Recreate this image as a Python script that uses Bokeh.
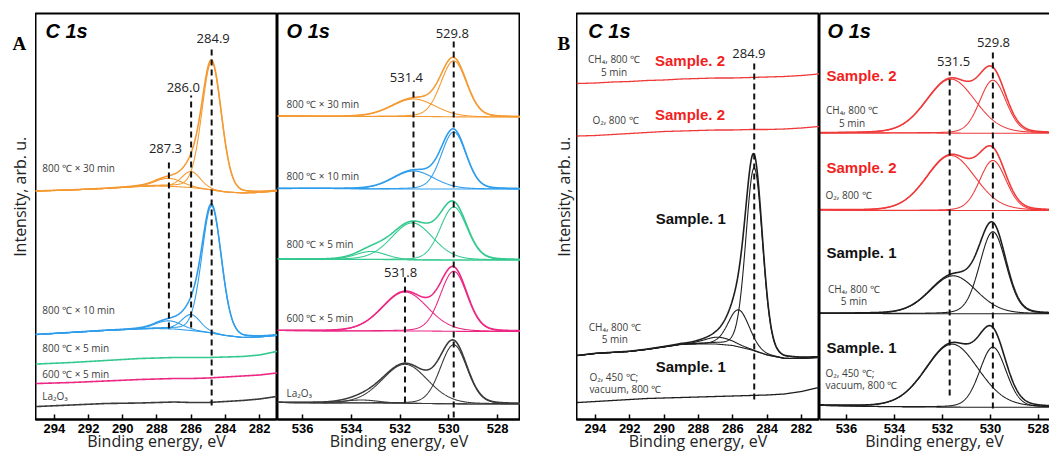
import numpy as np
from bokeh.plotting import figure
from bokeh.models import Range1d, FixedTicker, Label, LinearAxis
from bokeh.layouts import row
from bokeh.embed import file_html
from bokeh.resources import INLINE

# ------------------------------------------------------------------ data
C1S_TICKS = [294, 292, 290, 288, 286, 284, 282]
O1S_TICKS = [536, 534, 532, 530, 528]

# ---- Panel A, C 1s (intensity in arb. u.)
AC_E = [295, 293, 291, 289, 288, 287, 286, 285, 284, 283, 282, 281]
AC_La2O3 = [13, 14.5, 16, 16.5, 17, 17.5, 17, 17, 18, 19, 20.5, 23]
AC_600_5 = [36, 37, 38.5, 40, 40.5, 41, 41, 41.5, 42.5, 43.5, 44.5, 46.5]
AC_800_5 = [55.5, 57, 59, 61, 61.5, 62, 62, 62, 62.5, 63, 64.5, 68]
AC_800_10_bg = [85, 87, 89, 90.5, 91, 90.5, 89, 87, 84, 82, 82.5, 84]
AC_800_30_bg = [228.5, 229.5, 231, 233, 233.5, 233, 232, 230, 227.5, 226.5, 227, 228.5]
AC_PEAK_E = [284.8, 286.0, 287.3]
AC_FWHM = [1.35, 1.3, 1.8]
AC_800_10_H = [127, 16, 8]
AC_800_30_H = [128, 16, 8]
AC_LINES = ["284.9", "286.0", "287.3"]
AC_LINE_E = [284.8, 286.0, 287.3]
AC_LINE_TOP = [372, 324, 257]
AC_LINE_BOT = [14, 92, 91]
AC_NAMES = ["800 ℃ × 30 min", "800 ℃ × 10 min", "800 ℃ × 5 min", "600 ℃ × 5 min", "La₂O₃"]

# ---- Panel A, O 1s
AO_E = [537, 535, 533, 531, 529, 527]
AO_La2O3_bg = [17, 16.5, 16.5, 16, 15.5, 15.5]
AO_600_5_bg = [89, 88.5, 88.5, 88.5, 88, 88]
AO_800_5_bg = [160.5, 160, 160, 159.5, 159.5, 159.5]
AO_800_10_bg = [231, 231, 230.5, 230.5, 230.5, 230.5]
AO_800_30_bg = [303.5, 303, 303, 303, 302.5, 302.5]
AO_La2O3_pk = ([529.8, 531.8, 533.6], [59, 39, 3], [1.3, 2.2, 1.6])
AO_600_5_pk = ([529.8, 531.8], [60, 39], [1.3, 2.2])
AO_800_5_pk = ([529.8, 531.5, 533.2], [53, 37, 8], [1.3, 2.0, 1.5])
AO_800_10_pk = ([529.8, 531.45], [57, 18], [1.2, 2.0])
AO_800_30_pk = ([529.8, 531.45], [56, 17.5], [1.25, 2.1])
AO_LINES = ["529.8", "531.4", "531.8"]
AO_LINE_E = [529.8, 531.45, 531.8]
AO_LINE_TOP = [380, 332, 142]
AO_LINE_BOT = [2, 162, 17]

# ---- Panel B, C 1s
BC_E = [295, 294, 293, 292, 291, 290, 289, 288, 287, 286, 285, 284, 283, 282, 281]
BC_S2_CH4 = [336, 336.5, 337.5, 338, 339, 339.5, 340.5, 341, 341.5, 341.5, 342, 342.5, 343, 344, 345.5]
BC_S2_O2 = [283.5, 284, 285, 286, 287, 288, 288.5, 289, 289.5, 289.5, 290, 290, 290.5, 291.5, 293]
BC_S1_CH4_bg = [64, 66, 67, 68, 70, 72.5, 75, 75.5, 75.5, 74, 70, 64.5, 61, 61, 62]
BC_S1_O2 = [17, 18, 19, 20, 21, 21.5, 22, 22.5, 23, 23.5, 24, 24.5, 25.5, 28, 32]
BC_S1_CH4_pk = ([284.75, 285.65, 286.8], [183, 37, 7], [1.15, 1.45, 2.0])
BC_LINES = ["284.9"]
BC_LINE_E = [284.75]
BC_LINE_TOP = [356]
BC_LINE_BOT = [20]

# ---- Panel B, O 1s
BO_E = [537, 535, 533, 531, 529, 527]
BO_S2_CH4_bg = [286.5, 286.5, 286.5, 286.3, 286.3, 286.3]
BO_S2_O2_bg = [209.5, 209, 209, 209, 209, 209]
BO_S1_CH4_bg = [106, 106, 105.7, 105.7, 105.7, 105.7]
BO_S1_O2_bg = [14, 13, 12.5, 12.3, 12.3, 12.3]
BO_S2_CH4_pk = ([529.9, 531.65], [53, 54], [1.3, 2.4])
BO_S2_O2_pk = ([529.9, 531.65], [50, 55], [1.3, 2.4])
BO_S1_CH4_pk = ([529.9, 531.55], [82, 38], [1.3, 2.3])
BO_S1_O2_pk = ([529.9, 531.6], [60, 63], [1.3, 2.6])
BO_LINES = ["529.8", "531.5"]
BO_LINE_E = [529.9, 531.7]
BO_LINE_TOP = [369, 348]
BO_LINE_BOT = [11, 24]

# ------------------------------------------------------------------ styles
ORANGE = "#F59A32"
BLUE = "#2F9DEB"
GREEN = "#34C98F"
PINK = "#EC2784"
DARK = "#3A3A3A"
RED = "#F03A3A"
BLACK = "#1E1E1E"
TXT = "#3C3C3C"
H = 454

C1S_RANGE = (295.1, 280.95)
AO_RANGE = (537.03, 527.06)
BO_RANGE = (537.125, 527.54)


def peak(E, c, h, w, eta=0.15):
    g = np.exp(-4 * np.log(2) * ((E - c) / w) ** 2)
    lz = 1.0 / (1 + 4 * ((E - c) / w) ** 2)
    return h * ((1 - eta) * g + eta * lz)


def spectrum(p, grid, bgE, bgV, color, comps=None, lw=1.6):
    bg = np.interp(grid, np.array(bgE)[::-1], np.array(bgV)[::-1])
    if comps is None:
        p.line(grid, bg, line_color=color, line_width=lw)
        return
    cs, hs, ws = comps
    total = bg.copy()
    for c, h, w in zip(cs, hs, ws):
        comp = peak(grid, c, h, w)
        total = total + comp
        p.line(grid, bg + comp, line_color=color, line_width=1.1)
    p.line(grid, bg, line_color=color, line_width=1.1)
    p.line(grid, total, line_color=color, line_width=lw)


def txt(p, x, y, s, size="10px", color=TXT, font="Open Sans", style="normal", align="left", angle=0):
    p.add_layout(Label(x=x, y=y, text=s, text_font=font, text_font_size=size,
                       text_color=color, text_font_style=style, text_align=align,
                       text_baseline="middle", angle=angle))


def dashed(p, xs, tops, bots, names, label_pos):
    p.segment(x0=xs, y0=bots, x1=xs, y1=tops, line_dash="6 4", line_width=2, line_color="#111111")
    for s, (lx, ly) in zip(names, label_pos):
        txt(p, lx, ly, s, size="13px", color="#222222", align="center")


def strip(width, letter, letter_x, ylabel_x):
    s = figure(width=width, height=H, x_range=Range1d(0, width), y_range=Range1d(0, H),
               output_backend="svg", toolbar_location=None,
               min_border_left=0, min_border_right=0, min_border_top=0, min_border_bottom=0,
               x_axis_location=None, y_axis_location=None)
    s.grid.visible = False
    s.outline_line_color = None
    txt(s, letter_x, H - 33, letter, size="19px", color="black", font="Liberation Serif", style="bold")
    txt(s, ylabel_x, H - 205, "Intensity, arb. u.", size="16px", color="#222222",
        align="center", angle=np.pi / 2)
    return s


def panel(width, xr, ticks):
    p = figure(width=width, height=H, x_range=Range1d(*xr), y_range=Range1d(0, 406),
               output_backend="svg", toolbar_location=None,
               min_border_left=0, min_border_right=0,
               min_border_top=13, min_border_bottom=0,
               y_axis_location=None)
    p.grid.visible = False
    p.outline_line_color = "black"
    p.outline_line_width = 2
    ax = p.xaxis[0]
    ax.ticker = FixedTicker(ticks=ticks)
    ax.major_tick_in = 5
    ax.major_tick_out = 0
    ax.minor_tick_line_color = None
    ax.major_tick_line_width = 1.5
    ax.major_tick_line_color = "black"
    ax.axis_line_width = 2
    ax.axis_line_color = "black"
    ax.major_label_text_font = "Liberation Sans"
    ax.major_label_text_font_style = "bold"
    ax.major_label_text_font_size = "13px"
    ax.major_label_text_color = "black"
    ax.major_label_standoff = 4
    ax.axis_label = "Binding energy, eV"
    ax.axis_label_text_font = "Open Sans"
    ax.axis_label_text_font_size = "16px"
    ax.axis_label_text_font_style = "normal"
    ax.axis_label_text_color = "#222222"
    ax.axis_label_standoff = -6
    return p


# ------------------------------------------------------------------ A, C 1s
sA = strip(35, "A", 12, 19)
pA1 = panel(242, C1S_RANGE, C1S_TICKS)
g = np.linspace(C1S_RANGE[0], C1S_RANGE[1], 600)
spectrum(pA1, g, AC_E, AC_La2O3, DARK)
spectrum(pA1, g, AC_E, AC_600_5, PINK)
spectrum(pA1, g, AC_E, AC_800_5, GREEN)
spectrum(pA1, g, AC_E, AC_800_10_bg, BLUE, (AC_PEAK_E, AC_800_10_H, AC_FWHM))
spectrum(pA1, g, AC_E, AC_800_30_bg, ORANGE, (AC_PEAK_E, AC_800_30_H, AC_FWHM))
dashed(pA1, AC_LINE_E, AC_LINE_TOP, AC_LINE_BOT, AC_LINES,
       [(284.71, 381), (286.46, 332), (287.5, 271)])
for s, y in zip(AC_NAMES, [252, 110, 72, 46, 24]):
    txt(pA1, 294.7, y, s)
txt(pA1, 294.52, 389, "C 1s", size="20px", color="black", font="Liberation Sans", style="bold italic")

# ------------------------------------------------------------------ A, O 1s
pA2 = panel(243, AO_RANGE, O1S_TICKS)
g = np.linspace(AO_RANGE[0], AO_RANGE[1], 600)
spectrum(pA2, g, AO_E, AO_La2O3_bg, DARK, AO_La2O3_pk)
spectrum(pA2, g, AO_E, AO_600_5_bg, PINK, AO_600_5_pk)
spectrum(pA2, g, AO_E, AO_800_5_bg, GREEN, AO_800_5_pk)
spectrum(pA2, g, AO_E, AO_800_10_bg, BLUE, AO_800_10_pk)
spectrum(pA2, g, AO_E, AO_800_30_bg, ORANGE, AO_800_30_pk)
dashed(pA2, AO_LINE_E, AO_LINE_TOP, AO_LINE_BOT, AO_LINES,
       [(529.86, 386), (531.74, 342), (531.98, 147)])
for s, y in zip(AC_NAMES, [316, 244, 176, 102, 27]):
    txt(pA2, 536.66, y, s)
txt(pA2, 536.66, 389, "O 1s", size="20px", color="black", font="Liberation Sans", style="bold italic")

# ------------------------------------------------------------------ B, C 1s
sB = strip(56, "B", 37, 43)
pB1 = panel(243, C1S_RANGE, C1S_TICKS)
g = np.linspace(C1S_RANGE[0], C1S_RANGE[1], 600)
spectrum(pB1, g, BC_E, BC_S2_CH4, RED, lw=1.3)
spectrum(pB1, g, BC_E, BC_S2_O2, RED, lw=1.3)
spectrum(pB1, g, BC_E, BC_S1_CH4_bg, BLACK, BC_S1_CH4_pk)
spectrum(pB1, g, BC_E, BC_S1_O2, BLACK, lw=1.3)
dashed(pB1, BC_LINE_E, BC_LINE_TOP, BC_LINE_BOT, BC_LINES, [(285.06, 366)])
SAMPLE2, SAMPLE1 = "Sample. 2", "Sample. 1"
for y in (359, 305):
    txt(pB1, 288.49, y, SAMPLE2, size="15px", color="#F21F1F", font="Liberation Sans", style="bold", align="center")
for y in (201, 53):
    txt(pB1, 288.45, y, SAMPLE1, size="15px", color="#111111", font="Liberation Sans", style="bold", align="center")
txt(pB1, 292.91, 361, "CH₄, 800 ℃", align="center")
txt(pB1, 292.91, 348, "5 min", align="center")
txt(pB1, 292.83, 300, "O₂, 800 ℃", align="center")
txt(pB1, 292.87, 93, "CH₄, 800 ℃", align="center")
txt(pB1, 292.87, 81, "5 min", align="center")
txt(pB1, 294.35, 43, "O₂, 450 ℃;")
txt(pB1, 294.35, 31, "vacuum, 800 ℃")
txt(pB1, 294.41, 389, "C 1s", size="20px", color="black", font="Liberation Sans", style="bold italic")

# ------------------------------------------------------------------ B, O 1s
pB2 = panel(230, BO_RANGE, O1S_TICKS)
pB2.outline_line_color = None
for loc in ("left", "above"):
    a = LinearAxis(ticker=FixedTicker(ticks=[]), axis_line_width=2, axis_line_color="black",
                   major_tick_line_color=None, minor_tick_line_color=None,
                   major_tick_out=0, major_tick_in=0,
                   major_label_text_font_size="0px", major_label_standoff=0)
    pB2.add_layout(a, loc)
g = np.linspace(BO_RANGE[0], BO_RANGE[1], 600)
spectrum(pB2, g, BO_E, BO_S2_CH4_bg, RED, BO_S2_CH4_pk)
spectrum(pB2, g, BO_E, BO_S2_O2_bg, RED, BO_S2_O2_pk)
spectrum(pB2, g, BO_E, BO_S1_CH4_bg, BLACK, BO_S1_CH4_pk)
spectrum(pB2, g, BO_E, BO_S1_O2_bg, BLACK, BO_S1_O2_pk)
dashed(pB2, BO_LINE_E, BO_LINE_TOP, BO_LINE_BOT, BO_LINES, [(529.875, 377), (531.54, 358)])
for y in (344, 252):
    txt(pB2, 535.375, y, SAMPLE2, size="15px", color="#F21F1F", font="Liberation Sans", style="bold", align="center")
for y in (167, 72):
    txt(pB2, 535.375, y, SAMPLE1, size="15px", color="#111111", font="Liberation Sans", style="bold", align="center")
txt(pB2, 535.77, 310, "CH₄, 800 ℃", align="center")
txt(pB2, 535.77, 297, "5 min", align="center")
txt(pB2, 536.875, 225, "O₂, 800 ℃")
txt(pB2, 535.69, 131, "CH₄, 800 ℃", align="center")
txt(pB2, 535.69, 119, "5 min", align="center")
txt(pB2, 536.875, 47, "O₂, 450 ℃;")
txt(pB2, 536.875, 35, "vacuum, 800 ℃")
txt(pB2, 536.79, 389, "O 1s", size="20px", color="black", font="Liberation Sans", style="bold italic")

layout = row(sA, pA1, pA2, sB, pB1, pB2)
open("out.html", "w").write(file_html(layout, INLINE))
